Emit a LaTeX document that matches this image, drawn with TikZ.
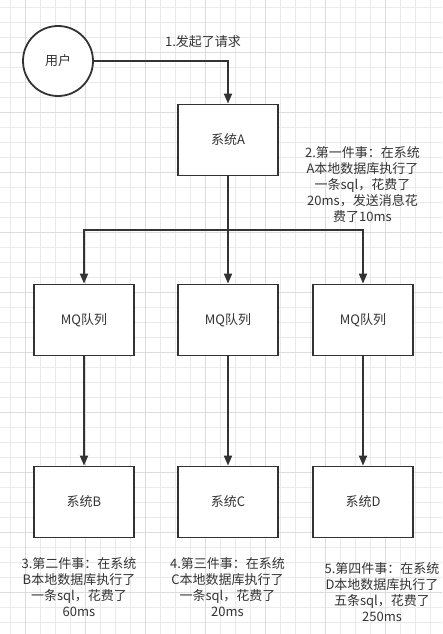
\documentclass[tikz,border=0pt]{standalone}
\usepackage{fontspec}
\setmainfont{Noto Sans CJK SC}
\usepackage{xcolor}
\usetikzlibrary{arrows.meta}

\definecolor{ink}{HTML}{333333}
\definecolor{gridminor}{HTML}{EAEAEA}
\definecolor{gridmajor}{HTML}{DCDCDC}

\begin{document}
\begin{tikzpicture}[x=1pt,y=-1pt,
    font=\fontsize{13}{16}\selectfont,
    textink/.style={text=ink},
    minorline/.style={gridminor,line width=0.8pt},
    majorline/.style={gridmajor,line width=0.8pt},
    user/.style={circle,draw=ink,line width=1.8pt,fill=white,minimum size=70pt,inner sep=0pt,textink},
    sysbox/.style={rectangle,draw=ink,line width=1.8pt,fill=white,minimum width=100pt,minimum height=71pt,inner sep=0pt,textink},
    note/.style={align=center,inner sep=0pt,textink},
    flow/.style={draw=ink,line width=1.8pt,-{Triangle[length=10pt,width=8pt]}},
    wire/.style={draw=ink,line width=1.8pt}]

    % 背景和网格
    \useasboundingbox (0,0) rectangle (442,634);
    \fill[white] (0,0) rectangle (442,634);
    \foreach \x in {10.7,25.7,...,442}
        \draw[minorline] (\x,0) -- (\x,634);
    \foreach \y in {7.3,22.3,...,634}
        \draw[minorline] (0,\y) -- (442,\y);
    \foreach \x in {25.7,85.7,...,442}
        \draw[majorline] (\x,0) -- (\x,634);
    \foreach \y in {52.3,112.3,...,634}
        \draw[majorline] (0,\y) -- (442,\y);

    % 节点
    \node[user] (user) at (58,61) {用户};
    \node[sysbox] (sysA) at (228,140) {系统A};

    \node[sysbox] (mqB) at (84,320) {MQ队列};
    \node[sysbox] (mqC) at (228,320) {MQ队列};
    \node[sysbox] (mqD) at (363,320) {MQ队列};

    \node[sysbox] (sysB) at (84,502) {系统B};
    \node[sysbox] (sysC) at (228,502) {系统C};
    \node[sysbox] (sysD) at (363,502) {系统D};

    % 连线
    \coordinate (split) at (228,230);
    \draw[flow] (user.east) -| (sysA.north);
    \draw[wire] (sysA.south) -- (split);
    \draw[flow] (split) -| (mqB.north);
    \draw[flow] (split) -- (mqC.north);
    \draw[flow] (split) -| (mqD.north);
    \draw[flow] (mqB.south) -- (sysB.north);
    \draw[flow] (mqC.south) -- (sysC.north);
    \draw[flow] (mqD.south) -- (sysD.north);

    % 说明文字
    \node[note] (step1) at (203,42) {1.发起了请求};
    \node[note] (step2) at (362.5,185) {2.第一件事：在系统\\A本地数据库执行了\\一条sql，花费了\\20ms，发送消息花\\费了10ms};
    \node[note] (step3) at (79,587.5) {3.第二件事：在系统\\B本地数据库执行了\\一条sql，花费了\\60ms};
    \node[note] (step4) at (227.5,587.5) {4.第三件事：在系统\\C本地数据库执行了\\一条sql，花费了\\20ms};
    \node[note] (step5) at (382,592) {5.第四件事：在系统\\D本地数据库执行了\\五条sql，花费了\\250ms};

\end{tikzpicture}
\end{document}
